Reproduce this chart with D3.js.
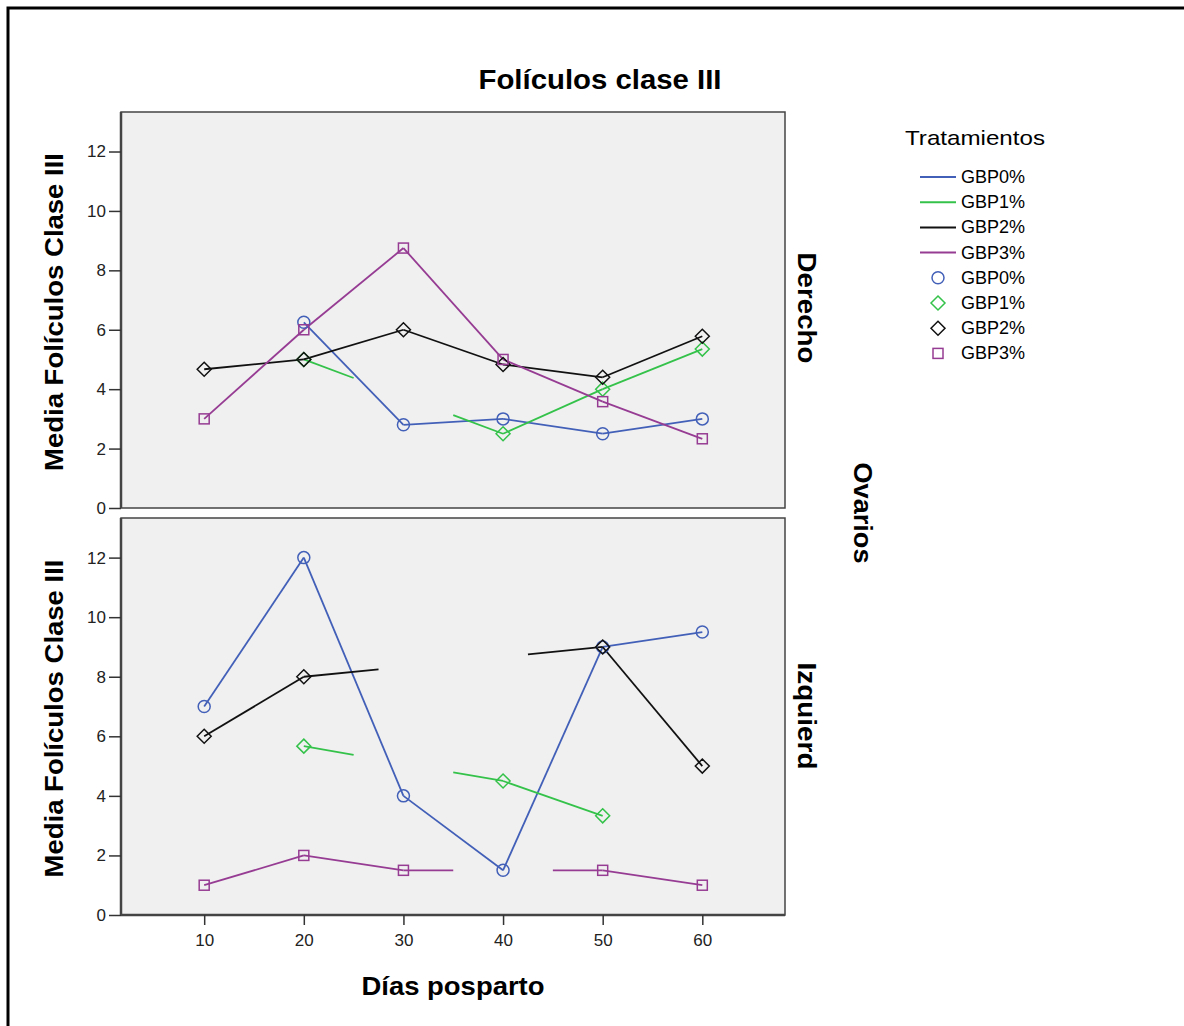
<!DOCTYPE html>
<html>
<head>
<meta charset="utf-8">
<script src="https://cdn.jsdelivr.net/npm/d3@7"></script>
<style>
  body { margin: 0; background: #fff; }
  svg { display: block; font-family: "Liberation Sans", Arial, sans-serif; }
  .tick text { font-size: 17px; fill: #222; }
  .tick line { stroke: #333; stroke-width: 1.5; }
  .domain { display: none; }
</style>
</head>
<body>
<svg id="chart" width="1184" height="1026"></svg>
<script>
// data (null = no mean for that day)
const days = [10, 20, 30, 40, 50, 60]
const treatments = ['GBP0%', 'GBP1%', 'GBP2%', 'GBP3%']
const colors = ['#4360b8', '#34c24a', '#111111', '#963c93']
const derecho = [
    [null, 6.25, 2.8, 3.0, 2.5, 3.0]
  , [null, 5.0, null, 2.5, 4.0, 5.35]
  , [4.67, 5.0, 6.0, 4.83, 4.4, 5.78]
  , [3.0, 6.0, 8.75, 5.0, 3.58, 2.33]
]
const izquierdo = [
    [7.0, 12.0, 4.0, 1.5, 9.0, 9.5]
  , [null, 5.67, null, 4.5, 3.33, null]
  , [6.0, 8.0, null, null, 9.0, 5.0]
  , [1.0, 2.0, 1.5, null, 1.5, 1.0]
]
const yTicks = [0, 2, 4, 6, 8, 10, 12]
const panelNames = ['Derecho', 'Izquierd']

const svg = d3.select('#chart')
    , plotLeft = 121
    , plotRight = 785
    , panels = [{ top: 112, bottom: 508, data: derecho }, { top: 518, bottom: 915, data: izquierdo }]
    , scaleX = d3.scaleLinear().domain([1.65, 68.3]).range([plotLeft, plotRight])
    , symbols = ['circle', 'diamond', 'diamond', 'square']
    , panelLabelPos = [[807, 308, 111], [807, 716, 107]]

// outer frame
svg.append('rect')
    .attr('x', 8).attr('y', 8).attr('width', 1200).attr('height', 1040)
    .attr('fill', 'none').attr('stroke', '#000').attr('stroke-width', 3)

svg.append('text')
    .attr('x', 600).attr('y', 89)
    .attr('text-anchor', 'middle')
    .attr('font-size', 27).attr('font-weight', 'bold')
    .attr('textLength', 243).attr('lengthAdjust', 'spacingAndGlyphs')
    .text('Folículos clase III')

const drawMarker = (g, shape, x, y, color) => {
    if (shape === 'circle') {
        g.append('circle').attr('cx', x).attr('cy', y).attr('r', 6)
            .attr('fill', 'none').attr('stroke', color).attr('stroke-width', 1.5)
    } else if (shape === 'diamond') {
        g.append('path')
            .attr('d', `M${x},${y - 7}L${x + 7},${y}L${x},${y + 7}L${x - 7},${y}Z`)
            .attr('fill', 'none').attr('stroke', color).attr('stroke-width', 1.5)
    } else {
        g.append('rect').attr('x', x - 5).attr('y', y - 5).attr('width', 10).attr('height', 10)
            .attr('fill', 'none').attr('stroke', color).attr('stroke-width', 1.5)
    }
}

panels.forEach((p, pi) => {
    const scaleY = d3.scaleLinear().domain([0, 13.33]).range([p.bottom, p.top])
    const g = svg.append('g')

    g.append('rect')
        .attr('x', plotLeft).attr('y', p.top)
        .attr('width', plotRight - plotLeft).attr('height', p.bottom - p.top)
        .attr('fill', '#f0f0f0').attr('stroke', '#444').attr('stroke-width', 1.5)
    g.append('line')
        .attr('x1', plotLeft).attr('x2', plotLeft).attr('y1', p.top).attr('y2', p.bottom)
        .attr('stroke', '#444').attr('stroke-width', 2.5)

    g.append('g')
        .attr('transform', `translate(${plotLeft},0)`)
        .call(d3.axisLeft(scaleY).tickValues(yTicks).tickSize(12).tickPadding(3))

    if (pi === 1) {
        g.append('line')
            .attr('x1', plotLeft).attr('x2', plotRight).attr('y1', p.bottom).attr('y2', p.bottom)
            .attr('stroke', '#444').attr('stroke-width', 2.5)
        g.append('g')
            .attr('transform', `translate(0,${p.bottom})`)
            .call(d3.axisBottom(scaleX).tickValues(days).tickSize(10).tickPadding(9))
    }

    // y label
    g.append('text')
        .attr('transform', `translate(63,${(p.top + p.bottom) / 2 + 2}) rotate(-90)`)
        .attr('text-anchor', 'middle')
        .attr('font-size', 25).attr('font-weight', 'bold')
        .attr('textLength', 318).attr('lengthAdjust', 'spacingAndGlyphs')
        .text('Media Folículos Clase III')

    // panel label
    const [lx, ly, ll] = panelLabelPos[pi]
    g.append('text')
        .attr('transform', `translate(${lx - 9},${ly}) rotate(90)`)
        .attr('text-anchor', 'middle')
        .attr('font-size', 26).attr('font-weight', 'bold')
        .attr('textLength', ll).attr('lengthAdjust', 'spacingAndGlyphs')
        .text(panelNames[pi])

    // lines, with bridged gaps drawn only at both ends
    p.data.forEach((vals, si) => {
        const pts = days.map((d, i) => ({ d, v: vals[i], i })).filter(e => e.v !== null)
        for (let k = 0; k < pts.length - 1; k++) {
            const a = pts[k], b = pts[k + 1]
            const x1 = scaleX(a.d), y1 = scaleY(a.v), x2 = scaleX(b.d), y2 = scaleY(b.v)
            const segs = b.i - a.i === 1
                ? [[0, 1]]
                : [[0, 0.25], [0.75, 1]]
            segs.forEach(([t0, t1]) => {
                g.append('line')
                    .attr('x1', x1 + (x2 - x1) * t0).attr('y1', y1 + (y2 - y1) * t0)
                    .attr('x2', x1 + (x2 - x1) * t1).attr('y2', y1 + (y2 - y1) * t1)
                    .attr('stroke', colors[si]).attr('stroke-width', 1.8)
            })
        }
    })
    p.data.forEach((vals, si) => {
        vals.forEach((v, i) => {
            if (v !== null) drawMarker(g, symbols[si], scaleX(days[i]), scaleY(v), colors[si])
        })
    })
})

svg.append('text')
    .attr('transform', 'translate(854,513) rotate(90)')
    .attr('text-anchor', 'middle')
    .attr('font-size', 26).attr('font-weight', 'bold')
    .attr('textLength', 101).attr('lengthAdjust', 'spacingAndGlyphs')
    .text('Ovarios')

svg.append('text')
    .attr('x', 453).attr('y', 995)
    .attr('text-anchor', 'middle')
    .attr('font-size', 25).attr('font-weight', 'bold')
    .attr('textLength', 183).attr('lengthAdjust', 'spacingAndGlyphs')
    .text('Días posparto')

// legend
const legend = svg.append('g')
legend.append('text')
    .attr('x', 905).attr('y', 145)
    .attr('font-size', 21)
    .attr('textLength', 140).attr('lengthAdjust', 'spacingAndGlyphs')
    .text('Tratamientos')
treatments.forEach((t, i) => {
    const y = 177 + i * 25.2
    legend.append('line')
        .attr('x1', 920).attr('x2', 956).attr('y1', y).attr('y2', y)
        .attr('stroke', colors[i]).attr('stroke-width', 2)
    legend.append('text').attr('x', 961).attr('y', y + 6).attr('font-size', 18).text(t)
})
treatments.forEach((t, i) => {
    const y = 177 + (i + 4) * 25.2
    drawMarker(legend, symbols[i], 938, y, colors[i])
    legend.append('text').attr('x', 961).attr('y', y + 6).attr('font-size', 18).text(t)
})
</script>
</body>
</html>
